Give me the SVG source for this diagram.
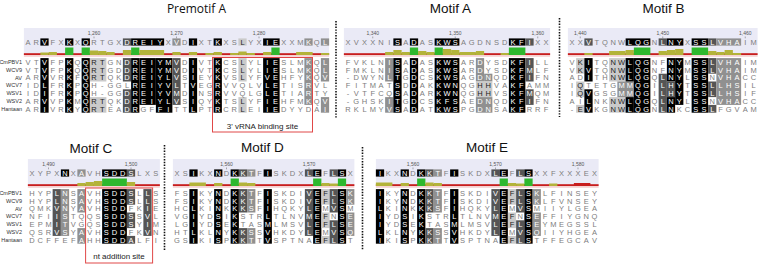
<svg xmlns="http://www.w3.org/2000/svg" width="759" height="265" viewBox="0 0 759 265">
<style>
.ttl{font-family:"Liberation Sans",Arial,sans-serif;font-size:13.5px;fill:#111;text-anchor:middle}
.ttl2{font-family:"Open Sans","Liberation Sans",sans-serif;font-size:12px;fill:#111;text-anchor:middle}
.seq{font-family:"Liberation Sans",Arial,sans-serif;font-size:7.5px;fill:#7d7d7d;text-anchor:middle}
.seq tspan{fill:#fff}
.seq tspan.d{fill:#222}
.num{font-family:"Liberation Sans",Arial,sans-serif;font-size:5px;fill:#555;text-anchor:middle}
.lab{font-family:"Liberation Sans",Arial,sans-serif;font-size:5.5px;fill:#333;text-anchor:end}
.l4{fill:#000}.l3{fill:#555}.l2{fill:#909090}.l1{fill:#cacaca}
.band{fill:#eaeaf6}.pink{fill:#f4d2d2}.red{fill:#c81e1e}.ol{fill:#b3b33a}.gr{fill:#2eb82e}
.tick{stroke:#777;stroke-width:.6;fill:none}
.sep{stroke:#111;stroke-width:1.6;stroke-dasharray:1.4 1.4;fill:none}
.ann{fill:none;stroke:#e04848;stroke-width:1}
.annt{font-family:"Liberation Sans",Arial,sans-serif;font-size:8px;fill:#222;text-anchor:middle}
</style>
<defs>
<g id="shD">
<rect class="l4" x="12.375" y="58.1" width="8.25" height="54.6"/>
<rect class="l4" x="37.125" y="58.1" width="8.25" height="54.6"/>
<rect class="l4" x="53.625" y="58.1" width="8.25" height="54.6"/>
<rect class="l3" x="61.875" y="58.1" width="8.25" height="23.4"/>
<rect class="l3" x="61.875" y="97.1" width="8.25" height="15.6"/>
<rect class="l2" x="70.125" y="58.1" width="8.25" height="23.4"/>
<rect class="l2" x="70.125" y="97.1" width="8.25" height="15.6"/>
<rect class="l4" x="86.625" y="58.1" width="8.25" height="54.6"/>
<rect class="l3" x="127.875" y="58.1" width="8.25" height="46.8"/>
<rect class="l4" x="136.125" y="58.1" width="8.25" height="54.6"/>
<rect class="l1" x="144.375" y="58.1" width="8.25" height="15.6"/>
<rect class="l1" x="144.375" y="81.5" width="8.25" height="15.6"/>
<rect class="l1" x="144.375" y="104.9" width="8.25" height="7.8"/>
<rect class="l3" x="152.625" y="58.1" width="8.25" height="23.4"/>
<rect class="l3" x="152.625" y="89.3" width="8.25" height="23.4"/>
<rect class="l4" x="160.875" y="58.1" width="8.25" height="54.6"/>
<rect class="l2" x="169.125" y="58.1" width="8.25" height="15.6"/>
<rect class="l2" x="169.125" y="81.5" width="8.25" height="23.4"/>
</g>
</defs>

<g id="premotifA" transform="translate(28,0)">
<text class="ttl2" x="168.5" y="12.5">Premotif A</text>
<rect class="band" x="-4.125" y="28" width="305.25" height="27"/>
<rect class="pink" x="-4.125" y="55" width="305.25" height="1.8"/>
<rect class="red" x="-4.125" y="53.2" width="305.25" height="1.8"/>
<rect class="ol" x="12.375" y="52.5" width="8.25" height="2.5"/>
<rect class="ol" x="20.625" y="52" width="8.25" height="3"/>
<rect class="gr" x="37.125" y="47.5" width="8.25" height="7.5"/>
<rect class="gr" x="53.625" y="47.5" width="8.25" height="7.5"/>
<rect class="ol" x="61.875" y="50.5" width="8.25" height="4.5"/>
<rect class="ol" x="70.125" y="51" width="8.25" height="4"/>
<rect class="ol" x="78.375" y="52" width="8.25" height="3"/>
<rect class="ol" x="94.875" y="50" width="8.25" height="5"/>
<rect class="gr" x="103.125" y="47.5" width="8.25" height="7.5"/>
<rect class="ol" x="111.375" y="50" width="24.75" height="5"/>
<rect class="ol" x="144.375" y="52" width="8.25" height="3"/>
<rect class="ol" x="160.875" y="52" width="8.25" height="3"/>
<rect class="ol" x="177.375" y="53" width="8.25" height="2"/>
<rect class="ol" x="185.625" y="52" width="8.25" height="3"/>
<rect class="ol" x="202.125" y="53" width="8.25" height="2"/>
<rect class="ol" x="210.375" y="51.5" width="8.25" height="3.5"/>
<rect class="ol" x="218.625" y="53" width="8.25" height="2"/>
<rect class="ol" x="235.125" y="52" width="8.25" height="3"/>
<rect class="gr" x="243.375" y="47.5" width="8.25" height="7.5"/>
<rect class="ol" x="268.125" y="52" width="16.5" height="3"/>
<rect class="ol" x="292.875" y="53" width="8.25" height="2"/>
<text class="num" y="35.3"><tspan x="66">1,260</tspan><tspan x="148.5">1,270</tspan><tspan x="231">1,280</tspan></text>
<path class="tick" d="M66 36.5v1.8M148.5 36.5v1.8M231 36.5v1.8"/>
<rect class="l4" x="12.375" y="38.4" width="8.25" height="7.2"/>
<rect class="l4" x="37.125" y="38.4" width="8.25" height="7.2"/>
<rect class="l4" x="53.625" y="38.4" width="8.25" height="7.2"/>
<rect class="l3" x="94.875" y="38.4" width="8.25" height="7.2"/>
<rect class="l4" x="103.125" y="38.4" width="33" height="7.2"/>
<rect class="l2" x="144.375" y="38.4" width="8.25" height="7.2"/>
<rect class="l4" x="160.875" y="38.4" width="8.25" height="7.2"/>
<rect class="l4" x="185.625" y="38.4" width="8.25" height="7.2"/>
<rect class="l1" x="210.375" y="38.4" width="8.25" height="7.2"/>
<rect class="l4" x="235.125" y="38.4" width="16.5" height="7.2"/>
<rect class="l2" x="276.375" y="38.4" width="8.25" height="7.2"/>
<rect class="l2" x="292.875" y="38.4" width="8.25" height="7.2"/>
<text class="seq" y="44.7" x="0 8.25 16.5 24.75 33 41.25 49.5 57.75 66 74.25 82.5 90.75 99 107.25 115.5 123.75 132 140.25 148.5 156.75 165 173.25 181.5 189.75 198 206.25 214.5 222.75 231 239.25 247.5 255.75 264 272.25 280.5 288.75 297">AR<tspan>V</tspan>FX<tspan>K</tspan>X<tspan>Q</tspan>RTGX<tspan>DREIY</tspan>X<tspan>V</tspan>D<tspan>I</tspan>XT<tspan>K</tspan>XS<tspan class="d">L</tspan>YX<tspan>IE</tspan>XXM<tspan>K</tspan>Q<tspan>L</tspan></text>
<rect class="l4" x="12.375" y="58.1" width="8.25" height="54.6"/>
<rect class="l4" x="37.125" y="58.1" width="8.25" height="54.6"/>
<rect class="l4" x="53.625" y="58.1" width="8.25" height="54.6"/>
<rect class="l1" x="61.875" y="58.1" width="16.5" height="23.4"/>
<rect class="l1" x="61.875" y="97.1" width="16.5" height="15.6"/>
<rect class="l3" x="94.875" y="58.1" width="8.25" height="23.4"/>
<rect class="l3" x="94.875" y="89.3" width="8.25" height="23.4"/>
<rect class="l4" x="103.125" y="58.1" width="8.25" height="54.6"/>
<rect class="l4" x="111.375" y="58.1" width="16.5" height="46.8"/>
<rect class="l4" x="127.875" y="58.1" width="16.5" height="54.6"/>
<rect class="l3" x="144.375" y="58.1" width="8.25" height="46.8"/>
<rect class="l4" x="160.875" y="58.1" width="8.25" height="54.6"/>
<rect class="l4" x="185.625" y="58.1" width="8.25" height="54.6"/>
<rect class="l1" x="210.375" y="58.1" width="8.25" height="23.4"/>
<rect class="l1" x="210.375" y="97.1" width="8.25" height="15.6"/>
<rect class="l4" x="235.125" y="58.1" width="16.5" height="54.6"/>
<rect class="l2" x="276.375" y="58.1" width="8.25" height="46.8"/>
<rect class="l2" x="292.875" y="58.1" width="8.25" height="23.4"/>
<rect class="l2" x="292.875" y="97.1" width="8.25" height="15.6"/>
<text class="seq" y="64.7" x="0 8.25 16.5 24.75 33 41.25 49.5 57.75 66 74.25 82.5 90.75 99 107.25 115.5 123.75 132 140.25 148.5 156.75 165 173.25 181.5 189.75 198 206.25 214.5 222.75 231 239.25 247.5 255.75 264 272.25 280.5 288.75 297">VT<tspan>V</tspan>FP<tspan>K</tspan>Q<tspan>Q</tspan><tspan class="d">RT</tspan>GN<tspan>DREIYMV</tspan>D<tspan>I</tspan>VT<tspan>K</tspan>CS<tspan class="d">L</tspan>YL<tspan>IE</tspan>SLM<tspan>K</tspan>Q<tspan>L</tspan></text>
<text class="seq" y="72.5" x="0 8.25 16.5 24.75 33 41.25 49.5 57.75 66 74.25 82.5 90.75 99 107.25 115.5 123.75 132 140.25 148.5 156.75 165 173.25 181.5 189.75 198 206.25 214.5 222.75 231 239.25 247.5 255.75 264 272.25 280.5 288.75 297">VT<tspan>V</tspan>FP<tspan>K</tspan>Q<tspan>Q</tspan><tspan class="d">RT</tspan>GD<tspan>DREIYMV</tspan>D<tspan>I</tspan>VT<tspan>K</tspan>CS<tspan class="d">L</tspan>YL<tspan>IE</tspan>SLM<tspan>K</tspan>Q<tspan>L</tspan></text>
<text class="seq" y="80.3" x="0 8.25 16.5 24.75 33 41.25 49.5 57.75 66 74.25 82.5 90.75 99 107.25 115.5 123.75 132 140.25 148.5 156.75 165 173.25 181.5 189.75 198 206.25 214.5 222.75 231 239.25 247.5 255.75 264 272.25 280.5 288.75 297">AR<tspan>V</tspan>VR<tspan>K</tspan>F<tspan>Q</tspan><tspan class="d">RT</tspan>QK<tspan>DREIYLV</tspan>S<tspan>I</tspan>EY<tspan>K</tspan>VS<tspan class="d">L</tspan>YF<tspan>VE</tspan>HFY<tspan>K</tspan>Q<tspan>V</tspan></text>
<text class="seq" y="88.1" x="0 8.25 16.5 24.75 33 41.25 49.5 57.75 66 74.25 82.5 90.75 99 107.25 115.5 123.75 132 140.25 148.5 156.75 165 173.25 181.5 189.75 198 206.25 214.5 222.75 231 239.25 247.5 255.75 264 272.25 280.5 288.75 297">ID<tspan>L</tspan>FR<tspan>K</tspan>P<tspan>Q</tspan>H-GGL<tspan>REIYVL</tspan>T<tspan>V</tspan>EG<tspan>R</tspan>VVQLV<tspan>LE</tspan>TIS<tspan>R</tspan>VL</text>
<text class="seq" y="95.9" x="0 8.25 16.5 24.75 33 41.25 49.5 57.75 66 74.25 82.5 90.75 99 107.25 115.5 123.75 132 140.25 148.5 156.75 165 173.25 181.5 189.75 198 206.25 214.5 222.75 231 239.25 247.5 255.75 264 272.25 280.5 288.75 297">ID<tspan>I</tspan>FR<tspan>K</tspan>P<tspan>Q</tspan>H-GG<tspan>DREIYVM</tspan>D<tspan>I</tspan>NS<tspan>R</tspan>VVQLG<tspan>LE</tspan>TIA<tspan>R</tspan>TY</text>
<text class="seq" y="103.7" x="0 8.25 16.5 24.75 33 41.25 49.5 57.75 66 74.25 82.5 90.75 99 107.25 115.5 123.75 132 140.25 148.5 156.75 165 173.25 181.5 189.75 198 206.25 214.5 222.75 231 239.25 247.5 255.75 264 272.25 280.5 288.75 297">AR<tspan>V</tspan>VP<tspan>K</tspan>M<tspan>Q</tspan><tspan class="d">RT</tspan>QK<tspan>DREIYLV</tspan>S<tspan>I</tspan>QY<tspan>K</tspan>TS<tspan class="d">L</tspan>YF<tspan>IE</tspan>HFM<tspan>K</tspan>Q<tspan>V</tspan></text>
<text class="seq" y="111.5" x="0 8.25 16.5 24.75 33 41.25 49.5 57.75 66 74.25 82.5 90.75 99 107.25 115.5 123.75 132 140.25 148.5 156.75 165 173.25 181.5 189.75 198 206.25 214.5 222.75 231 239.25 247.5 255.75 264 272.25 280.5 288.75 297">AR<tspan>I</tspan>VR<tspan>K</tspan>Y<tspan>Q</tspan><tspan class="d">RT</tspan>EA<tspan>DR</tspan>GF<tspan>FI</tspan>TT<tspan>L</tspan>PT<tspan>R</tspan>CR<tspan class="d">L</tspan>EI<tspan>IE</tspan>DYYDA<tspan>I</tspan></text>
</g>

<g id="motifA" transform="translate(348,0)">
<text class="ttl" x="102.5" y="12.5">Motif A</text>
<rect class="band" x="-4.125" y="28" width="206.25" height="27"/>
<rect class="pink" x="-4.125" y="55" width="206.25" height="1.8"/>
<rect class="red" x="-4.125" y="53.2" width="206.25" height="1.8"/>
<rect class="ol" x="37.125" y="52" width="8.25" height="3"/>
<rect class="ol" x="45.375" y="50" width="8.25" height="5"/>
<rect class="ol" x="53.625" y="52" width="8.25" height="3"/>
<rect class="gr" x="61.875" y="47.5" width="8.25" height="7.5"/>
<rect class="ol" x="70.125" y="51" width="8.25" height="4"/>
<rect class="ol" x="78.375" y="52" width="8.25" height="3"/>
<rect class="gr" x="86.625" y="47.5" width="8.25" height="7.5"/>
<rect class="ol" x="94.875" y="49" width="8.25" height="6"/>
<rect class="ol" x="103.125" y="50" width="8.25" height="5"/>
<rect class="ol" x="111.375" y="52" width="16.5" height="3"/>
<rect class="ol" x="127.875" y="51" width="8.25" height="4"/>
<rect class="ol" x="152.625" y="53" width="8.25" height="2"/>
<rect class="gr" x="160.875" y="47.5" width="16.5" height="7.5"/>
<text class="num" y="35.3"><tspan x="24.75">1,340</tspan><tspan x="107.25">1,350</tspan><tspan x="189.75">1,360</tspan></text>
<path class="tick" d="M24.75 36.5v1.8M107.25 36.5v1.8M189.75 36.5v1.8"/>
<rect class="l4" x="45.375" y="38.4" width="8.25" height="7.2"/>
<rect class="l4" x="61.875" y="38.4" width="8.25" height="7.2"/>
<rect class="l4" x="86.625" y="38.4" width="24.75" height="7.2"/>
<rect class="l4" x="160.875" y="38.4" width="16.5" height="7.2"/>
<rect class="l3" x="177.375" y="38.4" width="8.25" height="7.2"/>
<text class="seq" y="44.7" x="0 8.25 16.5 24.75 33 41.25 49.5 57.75 66 74.25 82.5 90.75 99 107.25 115.5 123.75 132 140.25 148.5 156.75 165 173.25 181.5 189.75 198">XVXXNI<tspan>S</tspan>A<tspan>D</tspan>AS<tspan>KWS</tspan>AGDNSD<tspan>KFI</tspan>XX</text>
<rect class="l2" x="37.125" y="58.1" width="8.25" height="23.4"/>
<rect class="l2" x="37.125" y="97.1" width="8.25" height="15.6"/>
<rect class="l4" x="45.375" y="58.1" width="8.25" height="54.6"/>
<rect class="l4" x="61.875" y="58.1" width="8.25" height="54.6"/>
<rect class="l4" x="86.625" y="58.1" width="24.75" height="54.6"/>
<rect class="l2" x="127.875" y="58.1" width="8.25" height="23.4"/>
<rect class="l2" x="136.125" y="73.7" width="8.25" height="7.8"/>
<rect class="l1" x="127.875" y="81.5" width="16.5" height="15.6"/>
<rect class="l2" x="127.875" y="97.1" width="16.5" height="15.6"/>
<rect class="l4" x="160.875" y="58.1" width="16.5" height="54.6"/>
<rect class="l3" x="177.375" y="58.1" width="8.25" height="23.4"/>
<rect class="l3" x="177.375" y="89.3" width="8.25" height="15.6"/>
<text class="seq" y="64.7" x="0 8.25 16.5 24.75 33 41.25 49.5 57.75 66 74.25 82.5 90.75 99 107.25 115.5 123.75 132 140.25 148.5 156.75 165 173.25 181.5 189.75 198">FVKLN<tspan>IS</tspan>A<tspan>D</tspan>AS<tspan>KWS</tspan>AR<tspan>D</tspan>YSD<tspan>KFI</tspan>LL</text>
<text class="seq" y="72.5" x="0 8.25 16.5 24.75 33 41.25 49.5 57.75 66 74.25 82.5 90.75 99 107.25 115.5 123.75 132 140.25 148.5 156.75 165 173.25 181.5 189.75 198">FMKLN<tspan>IS</tspan>A<tspan>D</tspan>AS<tspan>KWS</tspan>AR<tspan>D</tspan>YSD<tspan>KFM</tspan>LF</text>
<text class="seq" y="80.3" x="0 8.25 16.5 24.75 33 41.25 49.5 57.75 66 74.25 82.5 90.75 99 107.25 115.5 123.75 132 140.25 148.5 156.75 165 173.25 181.5 189.75 198">-DWYN<tspan>LT</tspan>G<tspan>D</tspan>CS<tspan>KWS</tspan>AG<tspan>DN</tspan>QD<tspan>KFI</tspan>FN</text>
<text class="seq" y="88.1" x="0 8.25 16.5 24.75 33 41.25 49.5 57.75 66 74.25 82.5 90.75 99 107.25 115.5 123.75 132 140.25 148.5 156.75 165 173.25 181.5 189.75 198">FITMAT<tspan>S</tspan>D<tspan>D</tspan>AK<tspan>KWN</tspan>QG<tspan class="d">HH</tspan>VA<tspan>KF</tspan>AMM</text>
<text class="seq" y="95.9" x="0 8.25 16.5 24.75 33 41.25 49.5 57.75 66 74.25 82.5 90.75 99 107.25 115.5 123.75 132 140.25 148.5 156.75 165 173.25 181.5 189.75 198">-VTFCQ<tspan>S</tspan>A<tspan>D</tspan>AR<tspan>KWN</tspan>QG<tspan class="d">HH</tspan>VS<tspan>KFM</tspan>QM</text>
<text class="seq" y="103.7" x="0 8.25 16.5 24.75 33 41.25 49.5 57.75 66 74.25 82.5 90.75 99 107.25 115.5 123.75 132 140.25 148.5 156.75 165 173.25 181.5 189.75 198">-GHSK<tspan>IT</tspan>G<tspan>D</tspan>CS<tspan>KFS</tspan>AE<tspan>DN</tspan>QD<tspan>KFI</tspan>FN</text>
<text class="seq" y="111.5" x="0 8.25 16.5 24.75 33 41.25 49.5 57.75 66 74.25 82.5 90.75 99 107.25 115.5 123.75 132 140.25 148.5 156.75 165 173.25 181.5 189.75 198">RKLMY<tspan>VS</tspan>A<tspan>D</tspan>AT<tspan>KWS</tspan>PG<tspan>DN</tspan>SA<tspan>KF</tspan>RRF</text>
</g>

<g id="motifB" transform="translate(572,0)">
<text class="ttl" x="91.5" y="12.5">Motif B</text>
<rect class="band" x="-4.125" y="28" width="189.75" height="27"/>
<rect class="pink" x="-4.125" y="55" width="189.75" height="1.8"/>
<rect class="red" x="-4.125" y="53.2" width="189.75" height="1.8"/>
<rect class="ol" x="12.375" y="53" width="8.25" height="2"/>
<rect class="ol" x="37.125" y="51" width="16.5" height="4"/>
<rect class="ol" x="53.625" y="50" width="8.25" height="5"/>
<rect class="gr" x="61.875" y="47.5" width="16.5" height="7.5"/>
<rect class="ol" x="86.625" y="51" width="8.25" height="4"/>
<rect class="ol" x="94.875" y="50" width="8.25" height="5"/>
<rect class="ol" x="103.125" y="49" width="8.25" height="6"/>
<rect class="gr" x="119.625" y="47.5" width="16.5" height="7.5"/>
<rect class="ol" x="136.125" y="51" width="8.25" height="4"/>
<rect class="ol" x="144.375" y="52" width="8.25" height="3"/>
<rect class="ol" x="152.625" y="50" width="8.25" height="5"/>
<rect class="ol" x="160.875" y="53" width="8.25" height="2"/>
<text class="num" y="35.3"><tspan x="8.25">1,440</tspan><tspan x="90.75">1,450</tspan><tspan x="173.25">1,460</tspan></text>
<path class="tick" d="M8.25 36.5v1.8M90.75 36.5v1.8M173.25 36.5v1.8"/>
<rect class="l3" x="12.375" y="38.4" width="8.25" height="7.2"/>
<rect class="l4" x="53.625" y="38.4" width="24.75" height="7.2"/>
<rect class="l3" x="86.625" y="38.4" width="8.25" height="7.2"/>
<rect class="l4" x="94.875" y="38.4" width="16.5" height="7.2"/>
<rect class="l4" x="119.625" y="38.4" width="16.5" height="7.2"/>
<rect class="l3" x="136.125" y="38.4" width="8.25" height="7.2"/>
<rect class="l2" x="144.375" y="38.4" width="24.75" height="7.2"/>
<text class="seq" y="44.7" x="0 8.25 16.5 24.75 33 41.25 49.5 57.75 66 74.25 82.5 90.75 99 107.25 115.5 123.75 132 140.25 148.5 156.75 165 173.25 181.5">XX<tspan>V</tspan>TQNW<tspan>LQG</tspan>N<tspan>LNY</tspan>X<tspan>SSLVHA</tspan>IM</text>
<rect class="l1" x="4.125" y="58.1" width="8.25" height="15.6"/>
<rect class="l1" x="4.125" y="81.5" width="8.25" height="15.6"/>
<rect class="l1" x="4.125" y="104.9" width="8.25" height="7.8"/>
<rect class="l4" x="12.375" y="58.1" width="8.25" height="23.4"/>
<rect class="l4" x="12.375" y="89.3" width="8.25" height="23.4"/>
<rect class="l1" x="37.125" y="58.1" width="16.5" height="23.4"/>
<rect class="l1" x="37.125" y="97.1" width="16.5" height="15.6"/>
<rect class="l2" x="45.375" y="81.5" width="16.5" height="15.6"/>
<rect class="l4" x="53.625" y="58.1" width="8.25" height="23.4"/>
<rect class="l4" x="53.625" y="97.1" width="8.25" height="15.6"/>
<rect class="l4" x="61.875" y="58.1" width="16.5" height="54.6"/>
<rect class="l3" x="86.625" y="73.7" width="8.25" height="39"/>
<rect class="l4" x="94.875" y="58.1" width="8.25" height="23.4"/>
<rect class="l3" x="94.875" y="81.5" width="8.25" height="15.6"/>
<rect class="l4" x="94.875" y="97.1" width="8.25" height="15.6"/>
<rect class="l4" x="103.125" y="58.1" width="8.25" height="46.8"/>
<rect class="l4" x="119.625" y="58.1" width="16.5" height="54.6"/>
<rect class="l3" x="136.125" y="58.1" width="8.25" height="15.6"/>
<rect class="l3" x="136.125" y="81.5" width="8.25" height="15.6"/>
<rect class="l3" x="136.125" y="104.9" width="8.25" height="7.8"/>
<rect class="l2" x="144.375" y="58.1" width="24.75" height="46.8"/>
<text class="seq" y="64.7" x="0 8.25 16.5 24.75 33 41.25 49.5 57.75 66 74.25 82.5 90.75 99 107.25 115.5 123.75 132 140.25 148.5 156.75 165 173.25 181.5">V<tspan class="d">K</tspan><tspan>I</tspan>TQ<tspan class="d">NW</tspan><tspan>LQG</tspan>NF<tspan>NY</tspan>M<tspan>SSLVHA</tspan>IM</text>
<text class="seq" y="72.5" x="0 8.25 16.5 24.75 33 41.25 49.5 57.75 66 74.25 82.5 90.75 99 107.25 115.5 123.75 132 140.25 148.5 156.75 165 173.25 181.5">V<tspan class="d">K</tspan><tspan>V</tspan>TQ<tspan class="d">NW</tspan><tspan>LQG</tspan>NF<tspan>NY</tspan>M<tspan>SSLVHA</tspan>IM</text>
<text class="seq" y="80.3" x="0 8.25 16.5 24.75 33 41.25 49.5 57.75 66 74.25 82.5 90.75 99 107.25 115.5 123.75 132 140.25 148.5 156.75 165 173.25 181.5">AD<tspan>I</tspan>TH<tspan class="d">NW</tspan><tspan>LQG</tspan>Q<tspan>LNY</tspan>L<tspan>SS</tspan>N<tspan>VHA</tspan>CC</text>
<text class="seq" y="88.1" x="0 8.25 16.5 24.75 33 41.25 49.5 57.75 66 74.25 82.5 90.75 99 107.25 115.5 123.75 132 140.25 148.5 156.75 165 173.25 181.5">I<tspan class="d">Q</tspan>TETG<tspan>MMQG</tspan>I<tspan>LHY</tspan>T<tspan>SSLLHS</tspan>IL</text>
<text class="seq" y="95.9" x="0 8.25 16.5 24.75 33 41.25 49.5 57.75 66 74.25 82.5 90.75 99 107.25 115.5 123.75 132 140.25 148.5 156.75 165 173.25 181.5">I<tspan class="d">Q</tspan><tspan>V</tspan>GSG<tspan>MMQG</tspan>I<tspan>LHY</tspan>T<tspan>SSLLHS</tspan>IF</text>
<text class="seq" y="103.7" x="0 8.25 16.5 24.75 33 41.25 49.5 57.75 66 74.25 82.5 90.75 99 107.25 115.5 123.75 132 140.25 148.5 156.75 165 173.25 181.5">AI<tspan>L</tspan>NK<tspan class="d">NW</tspan><tspan>LQG</tspan>Q<tspan>LNY</tspan>L<tspan>SS</tspan>N<tspan>VHA</tspan>CC</text>
<text class="seq" y="111.5" x="0 8.25 16.5 24.75 33 41.25 49.5 57.75 66 74.25 82.5 90.75 99 107.25 115.5 123.75 132 140.25 148.5 156.75 165 173.25 181.5">-<tspan class="d">E</tspan><tspan>V</tspan>KG<tspan class="d">NW</tspan><tspan>LQG</tspan>N<tspan>LN</tspan>KC<tspan>SSL</tspan>FGVAM</text>
</g>

<g id="motifC" transform="translate(32,131)">
<text class="ttl" x="59" y="22">Motif C</text>
<rect class="band" x="-4.125" y="28" width="132" height="27"/>
<rect class="pink" x="-4.125" y="55" width="132" height="1.8"/>
<rect class="red" x="-4.125" y="53.2" width="132" height="1.8"/>
<rect class="ol" x="45.375" y="52" width="8.25" height="3"/>
<rect class="ol" x="53.625" y="51" width="8.25" height="4"/>
<rect class="ol" x="61.875" y="50" width="8.25" height="5"/>
<rect class="gr" x="70.125" y="47.5" width="24.75" height="7.5"/>
<rect class="ol" x="94.875" y="51" width="8.25" height="4"/>
<text class="num" y="35.3"><tspan x="16.5">1,490</tspan><tspan x="99">1,500</tspan></text>
<path class="tick" d="M16.5 36.5v1.8M99 36.5v1.8"/>
<rect class="l4" x="28.875" y="38.4" width="8.25" height="7.2"/>
<rect class="l2" x="45.375" y="38.4" width="8.25" height="7.2"/>
<rect class="l4" x="70.125" y="38.4" width="24.75" height="7.2"/>
<rect class="l3" x="94.875" y="38.4" width="8.25" height="7.2"/>
<text class="seq" y="44.7" x="0 8.25 16.5 24.75 33 41.25 49.5 57.75 66 74.25 82.5 90.75 99 107.25 115.5 123.75">XYPX<tspan>N</tspan>X<tspan>A</tspan>VH<tspan>SDDS</tspan>LXS</text>
<rect class="l3" x="20.625" y="58.1" width="8.25" height="46.8"/>
<rect class="l2" x="28.875" y="58.1" width="8.25" height="46.8"/>
<rect class="l2" x="45.375" y="58.1" width="8.25" height="23.4"/>
<rect class="l2" x="45.375" y="97.1" width="8.25" height="15.6"/>
<rect class="l4" x="70.125" y="58.1" width="24.75" height="54.6"/>
<rect class="l3" x="94.875" y="58.1" width="8.25" height="15.6"/>
<rect class="l3" x="94.875" y="81.5" width="8.25" height="15.6"/>
<rect class="l3" x="94.875" y="104.9" width="8.25" height="7.8"/>
<rect class="l3" x="111.375" y="58.1" width="8.25" height="46.8"/>
<text class="seq" y="64.7" x="0 8.25 16.5 24.75 33 41.25 49.5 57.75 66 74.25 82.5 90.75 99 107.25 115.5 123.75">HYP<tspan>LN</tspan>S<tspan>A</tspan>VH<tspan>SDDS</tspan>L<tspan>L</tspan>S</text>
<text class="seq" y="72.5" x="0 8.25 16.5 24.75 33 41.25 49.5 57.75 66 74.25 82.5 90.75 99 107.25 115.5 123.75">HYP<tspan>LN</tspan>S<tspan>A</tspan>VH<tspan>SDDS</tspan>L<tspan>L</tspan>S</text>
<text class="seq" y="80.3" x="0 8.25 16.5 24.75 33 41.25 49.5 57.75 66 74.25 82.5 90.75 99 107.25 115.5 123.75">QMK<tspan>VN</tspan>Y<tspan>A</tspan>VH<tspan>SDD</tspan>FK<tspan>I</tspan>E</text>
<text class="seq" y="88.1" x="0 8.25 16.5 24.75 33 41.25 49.5 57.75 66 74.25 82.5 90.75 99 107.25 115.5 123.75">NFI<tspan>IS</tspan>TQQS<tspan>SDDS</tspan>S<tspan>V</tspan>L</text>
<text class="seq" y="95.9" x="0 8.25 16.5 24.75 33 41.25 49.5 57.75 66 74.25 82.5 90.75 99 107.25 115.5 123.75">EPM<tspan>IT</tspan>VGQS<tspan>SDDS</tspan>Y<tspan>I</tspan>M</text>
<text class="seq" y="103.7" x="0 8.25 16.5 24.75 33 41.25 49.5 57.75 66 74.25 82.5 90.75 99 107.25 115.5 123.75">QSR<tspan>VS</tspan>Y<tspan>A</tspan>VH<tspan>SDD</tspan>FK<tspan>V</tspan>N</text>
<text class="seq" y="111.5" x="0 8.25 16.5 24.75 33 41.25 49.5 57.75 66 74.25 82.5 90.75 99 107.25 115.5 123.75">DCFFEF<tspan>A</tspan>HH<tspan>SDDA</tspan>LFI</text>
</g>

<g id="motifD" transform="translate(177,131)">
<text class="ttl" x="85.5" y="21">Motif D</text>
<rect class="band" x="-4.125" y="28" width="181.5" height="27"/>
<rect class="pink" x="-4.125" y="55" width="181.5" height="1.8"/>
<rect class="red" x="-4.125" y="53.2" width="181.5" height="1.8"/>
<rect class="ol" x="12.375" y="51.5" width="16.5" height="3.5"/>
<rect class="ol" x="37.125" y="52" width="8.25" height="3"/>
<rect class="gr" x="53.625" y="47.5" width="8.25" height="7.5"/>
<rect class="ol" x="61.875" y="51.5" width="8.25" height="3.5"/>
<rect class="ol" x="70.125" y="52" width="8.25" height="3"/>
<rect class="gr" x="136.125" y="47.5" width="8.25" height="7.5"/>
<rect class="ol" x="144.375" y="52" width="8.25" height="3"/>
<rect class="ol" x="152.625" y="52.5" width="8.25" height="2.5"/>
<rect class="gr" x="160.875" y="47.5" width="8.25" height="7.5"/>
<text class="num" y="35.3"><tspan x="49.5">1,560</tspan><tspan x="132">1,570</tspan></text>
<path class="tick" d="M49.5 36.5v1.8M132 36.5v1.8"/>
<rect class="l4" x="12.375" y="38.4" width="8.25" height="7.2"/>
<rect class="l4" x="37.125" y="38.4" width="8.25" height="7.2"/>
<rect class="l4" x="53.625" y="38.4" width="8.25" height="7.2"/>
<rect class="l3" x="61.875" y="38.4" width="8.25" height="7.2"/>
<rect class="l2" x="70.125" y="38.4" width="8.25" height="7.2"/>
<rect class="l4" x="86.625" y="38.4" width="8.25" height="7.2"/>
<rect class="l3" x="127.875" y="38.4" width="8.25" height="7.2"/>
<rect class="l4" x="136.125" y="38.4" width="8.25" height="7.2"/>
<rect class="l3" x="152.625" y="38.4" width="8.25" height="7.2"/>
<rect class="l4" x="160.875" y="38.4" width="8.25" height="7.2"/>
<text class="seq" y="44.7" x="0 8.25 16.5 24.75 33 41.25 49.5 57.75 66 74.25 82.5 90.75 99 107.25 115.5 123.75 132 140.25 148.5 156.75 165 173.25">XS<tspan>I</tspan>KX<tspan>N</tspan>D<tspan>KKT</tspan>F<tspan>I</tspan>SKDX<tspan>LE</tspan>F<tspan>LS</tspan>X</text>
<use href="#shD"/>
<text class="seq" y="64.7" x="0 8.25 16.5 24.75 33 41.25 49.5 57.75 66 74.25 82.5 90.75 99 107.25 115.5 123.75 132 140.25 148.5 156.75 165 173.25">FS<tspan>I</tspan>KY<tspan>N</tspan>D<tspan>KKT</tspan>F<tspan>I</tspan>SKDI<tspan>VE</tspan><tspan class="d">F</tspan><tspan>LSK</tspan></text>
<text class="seq" y="72.5" x="0 8.25 16.5 24.75 33 41.25 49.5 57.75 66 74.25 82.5 90.75 99 107.25 115.5 123.75 132 140.25 148.5 156.75 165 173.25">FS<tspan>I</tspan>KY<tspan>N</tspan>D<tspan>KKT</tspan>F<tspan>I</tspan>SKDI<tspan>VE</tspan><tspan class="d">F</tspan><tspan>LSK</tspan></text>
<text class="seq" y="80.3" x="0 8.25 16.5 24.75 33 41.25 49.5 57.75 66 74.25 82.5 90.75 99 107.25 115.5 123.75 132 140.25 148.5 156.75 165 173.25">HC<tspan>L</tspan>KI<tspan>N</tspan>K<tspan>KKS</tspan>F<tspan>I</tspan>HQKY<tspan>LE</tspan>M<tspan>VS</tspan>M</text>
<text class="seq" y="88.1" x="0 8.25 16.5 24.75 33 41.25 49.5 57.75 66 74.25 82.5 90.75 99 107.25 115.5 123.75 132 140.25 148.5 156.75 165 173.25">VG<tspan>I</tspan>YD<tspan>S</tspan>I<tspan>K</tspan>STR<tspan>L</tspan>TLNV<tspan>ME</tspan><tspan class="d">F</tspan>N<tspan>SE</tspan></text>
<text class="seq" y="95.9" x="0 8.25 16.5 24.75 33 41.25 49.5 57.75 66 74.25 82.5 90.75 99 107.25 115.5 123.75 132 140.25 148.5 156.75 165 173.25">LG<tspan>I</tspan>YD<tspan>S</tspan>E<tspan>K</tspan>TAS<tspan>M</tspan>LMSV<tspan>LE</tspan><tspan class="d">F</tspan><tspan>LSE</tspan></text>
<text class="seq" y="103.7" x="0 8.25 16.5 24.75 33 41.25 49.5 57.75 66 74.25 82.5 90.75 99 107.25 115.5 123.75 132 140.25 148.5 156.75 165 173.25">HT<tspan>L</tspan>KL<tspan>N</tspan>Y<tspan>KKS</tspan>S<tspan>V</tspan>HKDY<tspan>LE</tspan>M<tspan>VSQ</tspan></text>
<text class="seq" y="111.5" x="0 8.25 16.5 24.75 33 41.25 49.5 57.75 66 74.25 82.5 90.75 99 107.25 115.5 123.75 132 140.25 148.5 156.75 165 173.25">GS<tspan>I</tspan>KI<tspan>S</tspan>P<tspan>KKT</tspan>T<tspan>V</tspan>SPTNA<tspan>E</tspan><tspan class="d">F</tspan><tspan>LS</tspan>T</text>
</g>

<g id="motifE" transform="translate(380,131)">
<text class="ttl" x="107" y="21">Motif E</text>
<rect class="band" x="-4.125" y="28" width="222.75" height="27"/>
<rect class="pink" x="-4.125" y="55" width="222.75" height="1.8"/>
<rect class="red" x="-4.125" y="53.2" width="222.75" height="1.8"/>
<rect class="ol" x="-4.125" y="51.5" width="16.5" height="3.5"/>
<rect class="ol" x="20.625" y="52" width="8.25" height="3"/>
<rect class="gr" x="37.125" y="47.5" width="8.25" height="7.5"/>
<rect class="ol" x="45.375" y="51.5" width="8.25" height="3.5"/>
<rect class="ol" x="53.625" y="52" width="8.25" height="3"/>
<rect class="gr" x="119.625" y="47.5" width="8.25" height="7.5"/>
<rect class="ol" x="127.875" y="52" width="8.25" height="3"/>
<rect class="ol" x="136.125" y="52.5" width="8.25" height="2.5"/>
<rect class="gr" x="144.375" y="47.5" width="8.25" height="7.5"/>
<rect class="ol" x="169.125" y="52.5" width="8.25" height="2.5"/>
<rect class="red" x="193.875" y="52" width="16.5" height="3"/>
<text class="num" y="35.3"><tspan x="33">1,560</tspan><tspan x="115.5">1,570</tspan><tspan x="198">1,580</tspan></text>
<path class="tick" d="M33 36.5v1.8M115.5 36.5v1.8M198 36.5v1.8"/>
<rect class="l4" x="-4.125" y="38.4" width="8.25" height="7.2"/>
<rect class="l4" x="20.625" y="38.4" width="8.25" height="7.2"/>
<rect class="l4" x="37.125" y="38.4" width="8.25" height="7.2"/>
<rect class="l3" x="45.375" y="38.4" width="8.25" height="7.2"/>
<rect class="l2" x="53.625" y="38.4" width="8.25" height="7.2"/>
<rect class="l4" x="70.125" y="38.4" width="8.25" height="7.2"/>
<rect class="l3" x="111.375" y="38.4" width="8.25" height="7.2"/>
<rect class="l4" x="119.625" y="38.4" width="8.25" height="7.2"/>
<rect class="l3" x="136.125" y="38.4" width="8.25" height="7.2"/>
<rect class="l4" x="144.375" y="38.4" width="8.25" height="7.2"/>
<text class="seq" y="44.7" x="0 8.25 16.5 24.75 33 41.25 49.5 57.75 66 74.25 82.5 90.75 99 107.25 115.5 123.75 132 140.25 148.5 156.75 165 173.25 181.5 189.75 198 206.25 214.5"><tspan>I</tspan>KX<tspan>N</tspan>D<tspan>KKT</tspan>F<tspan>I</tspan>SKDX<tspan>LE</tspan>F<tspan>LS</tspan>XXFXXXEX</text>
<use href="#shD" x="-16.5"/>
<text class="seq" y="64.7" x="0 8.25 16.5 24.75 33 41.25 49.5 57.75 66 74.25 82.5 90.75 99 107.25 115.5 123.75 132 140.25 148.5 156.75 165 173.25 181.5 189.75 198 206.25 214.5"><tspan>I</tspan>KY<tspan>N</tspan>D<tspan>KKT</tspan>F<tspan>I</tspan>SKDI<tspan>VE</tspan><tspan class="d">F</tspan><tspan>LSK</tspan>LFINSEY</text>
<text class="seq" y="72.5" x="0 8.25 16.5 24.75 33 41.25 49.5 57.75 66 74.25 82.5 90.75 99 107.25 115.5 123.75 132 140.25 148.5 156.75 165 173.25 181.5 189.75 198 206.25 214.5"><tspan>I</tspan>KY<tspan>N</tspan>D<tspan>KKT</tspan>F<tspan>I</tspan>SKDI<tspan>VE</tspan><tspan class="d">F</tspan><tspan>LSK</tspan>LFVNSEY</text>
<text class="seq" y="80.3" x="0 8.25 16.5 24.75 33 41.25 49.5 57.75 66 74.25 82.5 90.75 99 107.25 115.5 123.75 132 140.25 148.5 156.75 165 173.25 181.5 189.75 198 206.25 214.5"><tspan>L</tspan>KI<tspan>N</tspan>K<tspan>KKS</tspan>F<tspan>I</tspan>HQKY<tspan>LE</tspan>M<tspan>VS</tspan>MIIYLGEA</text>
<text class="seq" y="88.1" x="0 8.25 16.5 24.75 33 41.25 49.5 57.75 66 74.25 82.5 90.75 99 107.25 115.5 123.75 132 140.25 148.5 156.75 165 173.25 181.5 189.75 198 206.25 214.5"><tspan>I</tspan>YD<tspan>S</tspan>I<tspan>K</tspan>STR<tspan>L</tspan>TLNV<tspan>ME</tspan><tspan class="d">F</tspan>N<tspan>SE</tspan>FFIYGNQ</text>
<text class="seq" y="95.9" x="0 8.25 16.5 24.75 33 41.25 49.5 57.75 66 74.25 82.5 90.75 99 107.25 115.5 123.75 132 140.25 148.5 156.75 165 173.25 181.5 189.75 198 206.25 214.5"><tspan>I</tspan>YD<tspan>S</tspan>E<tspan>K</tspan>TAS<tspan>M</tspan>LMSV<tspan>LE</tspan><tspan class="d">F</tspan><tspan>LSE</tspan>YMEGSSL</text>
<text class="seq" y="103.7" x="0 8.25 16.5 24.75 33 41.25 49.5 57.75 66 74.25 82.5 90.75 99 107.25 115.5 123.75 132 140.25 148.5 156.75 165 173.25 181.5 189.75 198 206.25 214.5"><tspan>L</tspan>KL<tspan>N</tspan>Y<tspan>KKS</tspan>S<tspan>V</tspan>HKDY<tspan>LE</tspan>M<tspan>VSQ</tspan>IIYHGEA</text>
<text class="seq" y="111.5" x="0 8.25 16.5 24.75 33 41.25 49.5 57.75 66 74.25 82.5 90.75 99 107.25 115.5 123.75 132 140.25 148.5 156.75 165 173.25 181.5 189.75 198 206.25 214.5"><tspan>I</tspan>KI<tspan>S</tspan>P<tspan>KKT</tspan>T<tspan>V</tspan>SPTNA<tspan>E</tspan><tspan class="d">F</tspan><tspan>LS</tspan>TFFEGCAV</text>
</g>

<g id="labels">
<text class="lab" x="22" y="64">CmPBV1</text>
<text class="lab" x="22" y="71.8">WCV9</text>
<text class="lab" x="22" y="79.6">AV</text>
<text class="lab" x="22" y="87.4">WCV7</text>
<text class="lab" x="22" y="95.2">WSV1</text>
<text class="lab" x="22" y="103">WSV2</text>
<text class="lab" x="22" y="110.8">Hantaan</text>
<text class="lab" x="22" y="195">CmPBV1</text>
<text class="lab" x="22" y="202.8">WCV9</text>
<text class="lab" x="22" y="210.6">AV</text>
<text class="lab" x="22" y="218.4">WCV7</text>
<text class="lab" x="22" y="226.2">WSV1</text>
<text class="lab" x="22" y="234">WSV2</text>
<text class="lab" x="22" y="241.8">Hantaan</text>
</g>

<g id="annotations">
<rect class="ann" x="212.5" y="57.5" width="100" height="74.5"/>
<text class="annt" x="262.5" y="128.5">3' vRNA binding site</text>
<rect class="ann" x="85.6" y="188" width="67" height="75"/>
<text class="annt" x="119" y="259">nt addition site</text>
</g>

<g id="separators">
<line class="sep" x1="336" y1="21" x2="336" y2="118"/>
<line class="sep" x1="559.5" y1="18" x2="559.5" y2="117"/>
<line class="sep" x1="164.5" y1="145" x2="164.5" y2="250"/>
<line class="sep" x1="362.5" y1="147" x2="362.5" y2="250"/>
</g>
</svg>
